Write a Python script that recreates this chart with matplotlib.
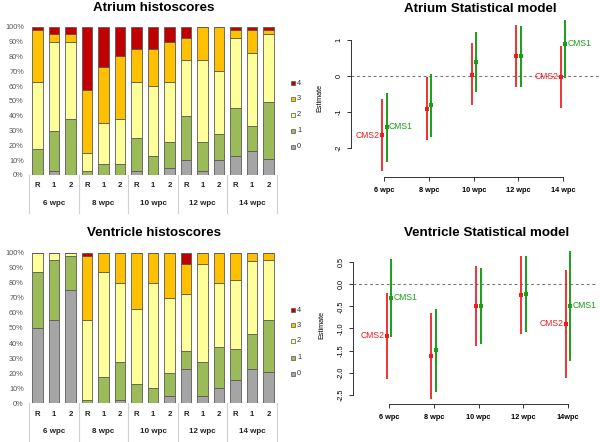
import matplotlib
matplotlib.use('Agg')
import matplotlib.pyplot as plt
from matplotlib.patches import Rectangle
import numpy as np

plt.rcParams['font.family'] = ['Liberation Sans', 'DejaVu Sans']
plt.rcParams['axes.unicode_minus'] = False

# ─── Data ─────────────────────────────────────────────────────────────
groups = ['6 wpc', '8 wpc', '10 wpc', '12 wpc', '14 wpc']
subcats = ['R', '1', '2']
score_labels = ['0', '1', '2', '3', '4']

# histoscore percentages per bar (6R,6-1,6-2, 8R, ... 14-2)
atrium_s0 = [0, 2.5, 0, 0, 0, 0, 2.5, 0, 5, 10, 2.5, 10, 12.5, 16, 10.5]
atrium_s1 = [17.5, 27.5, 37.5, 2.5, 7.5, 7.5, 22.5, 12.5, 17.5, 30, 20, 17.5, 33, 17, 39]
atrium_s2 = [45, 60, 52.5, 12.5, 27.5, 30, 37.5, 47.5, 40, 37.5, 55, 42.5, 47, 49, 45.5]
atrium_s3 = [35, 5, 5, 42.5, 37.5, 42.5, 22.5, 25, 27.5, 15, 22.5, 30, 5, 15.5, 2.5]
atrium_s4 = [2.5, 5, 5, 42.5, 27.5, 20, 15, 15, 10, 7.5, 0, 0, 2.5, 2.5, 2.5]

ventricle_s0 = [50, 55, 75, 0, 0, 2.5, 0, 0, 5, 22.5, 5, 10, 15.5, 23, 21]
ventricle_s1 = [37.5, 40, 22.5, 2.5, 17.5, 25, 12.5, 10, 15, 12.5, 22.5, 27.5, 20.5, 23, 34.5]
ventricle_s2 = [12.5, 5, 2.5, 52.5, 70, 52.5, 50, 70, 50, 37.5, 65, 42.5, 46, 48.5, 39.5]
ventricle_s3 = [0, 0, 0, 42.5, 12.5, 20, 37.5, 20, 30, 20, 7.5, 20, 18, 5.5, 5]
ventricle_s4 = [0, 0, 0, 2.5, 0, 0, 0, 0, 0, 7.5, 0, 0, 0, 0, 0]

# statistical model estimates
weeks = [6, 8, 10, 12, 14]
atrium_week_labels = ['6 wpc', '8 wpc', '10 wpc', '12 wpc', '14 wpc']
ventricle_week_labels = ['6 wpc', '8 wpc', '10 wpc', '12 wpc', '14wpc']

atrium_cms2_est = [-1.65, -0.91, 0.04, 0.56, -0.02]
atrium_cms2_lo = [-2.64, -1.78, -0.81, -0.32, -0.89]
atrium_cms2_hi = [-0.65, -0.04, 0.92, 1.43, 0.84]
atrium_cms1_est = [-1.42, -0.82, 0.39, 0.55, 0.90]
atrium_cms1_lo = [-2.40, -1.70, -0.46, -0.30, -0.05]
atrium_cms1_hi = [-0.47, 0.07, 1.24, 1.40, 1.57]

ventricle_cms2_est = [-1.17, -1.62, -0.48, -0.24, -0.89]
ventricle_cms2_lo = [-2.14, -2.59, -1.39, -1.12, -2.12]
ventricle_cms2_hi = [-0.19, -0.64, 0.42, 0.64, 0.33]
ventricle_cms1_est = [-0.30, -1.48, -0.49, -0.21, -0.48]
ventricle_cms1_lo = [-1.20, -2.44, -1.36, -1.08, -1.73]
ventricle_cms1_hi = [0.57, -0.55, 0.38, 0.64, 0.76]

# ─── Styling ──────────────────────────────────────────────────────────
score_colors = ['#a5a5a5', '#9bbb59', '#ffff99', '#ffc000', '#c00000']
RED = '#f01c1c'
GREEN = '#16a016'
W, H = 600, 442

fig = plt.figure(figsize=(W / 100, H / 100), dpi=100, facecolor='white')


def add_ax(x0, y0, x1, y1):
    # pixel box (top-left origin) -> figure axes
    return fig.add_axes([x0 / W, 1 - y1 / H, (x1 - x0) / W, (y1 - y0) / H])


def histo_panel(box, title, title_y, scores, legend_ys):
    ax = add_ax(*box)
    x = np.arange(15)
    bottom = np.zeros(15)
    for vals, col in zip(scores, score_colors):
        ax.bar(x, vals, bottom=bottom, width=0.63, color=col,
               edgecolor='#5a5a5a', linewidth=0.6, zorder=2)
        bottom += np.array(vals)
    ax.set_xlim(-0.58, 14.58)
    ax.set_ylim(0, 100)
    ax.set_yticks(range(0, 101, 10))
    ax.set_yticklabels([f'{v}%' for v in range(0, 101, 10)],
                       fontsize=5.3, color='#555555')
    ax.tick_params(axis='y', length=0, pad=3)
    ax.set_xticks([])
    for s in ax.spines.values():
        s.set_visible(False)
    ax.axhline(0, color='#cfcfcf', lw=0.8, zorder=1)

    h_px = (box[3] - box[1])
    trans = ax.get_xaxis_transform()
    for i in range(15):
        ax.text(i, -11 / h_px, subcats[i % 3], transform=trans, ha='center',
                va='center', fontsize=5.6, fontweight='bold', color='#222222')
    for g, name in enumerate(groups):
        ax.text(3 * g + 1, -28.5 / h_px, name, transform=trans, ha='center',
                va='center', fontsize=5.8, fontweight='bold', color='#222222')
    for xs in np.arange(-0.5, 15, 3):
        ax.plot([xs, xs], [0, -38 / h_px], transform=trans, color='#d0d0d0',
                lw=0.8, clip_on=False)

    cx = (box[0] + box[2]) / 2 + 1
    fig.text(cx / W, 1 - title_y / H, title, ha='center', va='center',
             fontsize=9.6, fontweight='bold', color='black')

    # legend (4 on top)
    for lbl, col, yy in zip(score_labels[::-1], score_colors[::-1], legend_ys):
        fig.patches.append(Rectangle((291 / W, 1 - (yy + 2) / H), 4 / W, 4 / H,
                                     transform=fig.transFigure, facecolor=col,
                                     edgecolor='#555555', linewidth=0.5))
        fig.text(297 / W, 1 - yy / H, lbl, ha='left', va='center',
                 fontsize=5.3, color='#333333')


def model_panel(box, title, title_y, yl, yticks, ylabels, xlim, wlabels,
                c2, c1, title_x):
    ax = add_ax(*box)
    est2, lo2, hi2 = c2
    est1, lo1, hi1 = c1
    xr = np.array(weeks) - 0.1
    xg = np.array(weeks) + 0.1
    ax.axhline(0, color='#777777', lw=0.8, ls=(0, (2.5, 2.5)), zorder=1)
    ax.vlines(xr, lo2, hi2, color=RED, lw=1.4, alpha=0.9, zorder=2)
    ax.vlines(xg, lo1, hi1, color=GREEN, lw=1.4, zorder=2)
    ax.plot(xr, est2, 's', color=RED, ms=2.8, mew=0, zorder=3)
    ax.plot(xg, est1, 's', color=GREEN, ms=2.8, mew=0, zorder=3)
    for i in (0, 4):
        ax.text(xr[i] - 0.1, est2[i], 'CMS2', color=RED, fontsize=6.2,
                ha='right', va='center')
        ax.text(xg[i] + 0.1, est1[i], 'CMS1', color=GREEN, fontsize=6.2,
                ha='left', va='center')
    ax.set_xlim(*xlim)
    ax.set_ylim(*yl)
    ax.set_yticks(yticks)
    ax.set_yticklabels(ylabels, fontsize=5.2, rotation=90, va='center')
    ax.set_xticks(weeks)
    ax.set_xticklabels(wlabels, fontsize=5.3, fontweight='bold')
    ax.tick_params(axis='both', length=3, width=0.7, color='#333333',
                   pad=3)
    ax.tick_params(axis='x', pad=4)
    for s in ('top', 'right'):
        ax.spines[s].set_visible(False)
    ax.spines['left'].set_bounds(yticks[-1], yticks[0])
    ax.spines['bottom'].set_bounds(weeks[0], weeks[-1])
    for s in ('left', 'bottom'):
        ax.spines[s].set_color('#333333')
        ax.spines[s].set_linewidth(0.7)
    ax.set_ylabel('Estimate', fontsize=5.2, labelpad=9)
    ax.patch.set_alpha(0)
    fig.text(title_x / W, 1 - title_y / H, title, ha='center',
             va='center', fontsize=9.6, fontweight='bold', color='black')


histo_panel((28, 26.7, 278, 175), 'Atrium histoscores', 8,
            [atrium_s0, atrium_s1, atrium_s2, atrium_s3, atrium_s4],
            [83.3, 99, 115, 131, 146.7])
histo_panel((28, 252.7, 278, 403.3), 'Ventricle histoscores', 233,
            [ventricle_s0, ventricle_s1, ventricle_s2, ventricle_s3, ventricle_s4],
            [310.3, 325.3, 341, 357.7, 373.7])

model_panel((351, 18, 600, 177), 'Atrium Statistical model', 8.5,
            (-2.82, 1.62), [1, 0, -1, -2], ['1', '0', '-1', '-2'],
            (4.5, 15.65), atrium_week_labels,
            (atrium_cms2_est, atrium_cms2_lo, atrium_cms2_hi),
            (atrium_cms1_est, atrium_cms1_lo, atrium_cms1_hi), 480)
model_panel((353, 245, 598, 404), 'Ventricle Statistical model', 233.5,
            (-2.71, 0.89), [0.5, 0.0, -0.5, -1.0, -1.5, -2.0, -2.5],
            ['0.5', '0.0', '-0.5', '-1.0', '-1.5', '-2.0', '-2.5'],
            (4.4, 15.33), ventricle_week_labels,
            (ventricle_cms2_est, ventricle_cms2_lo, ventricle_cms2_hi),
            (ventricle_cms1_est, ventricle_cms1_lo, ventricle_cms1_hi), 487)

fig.savefig('out.png', dpi=100, facecolor='white')
